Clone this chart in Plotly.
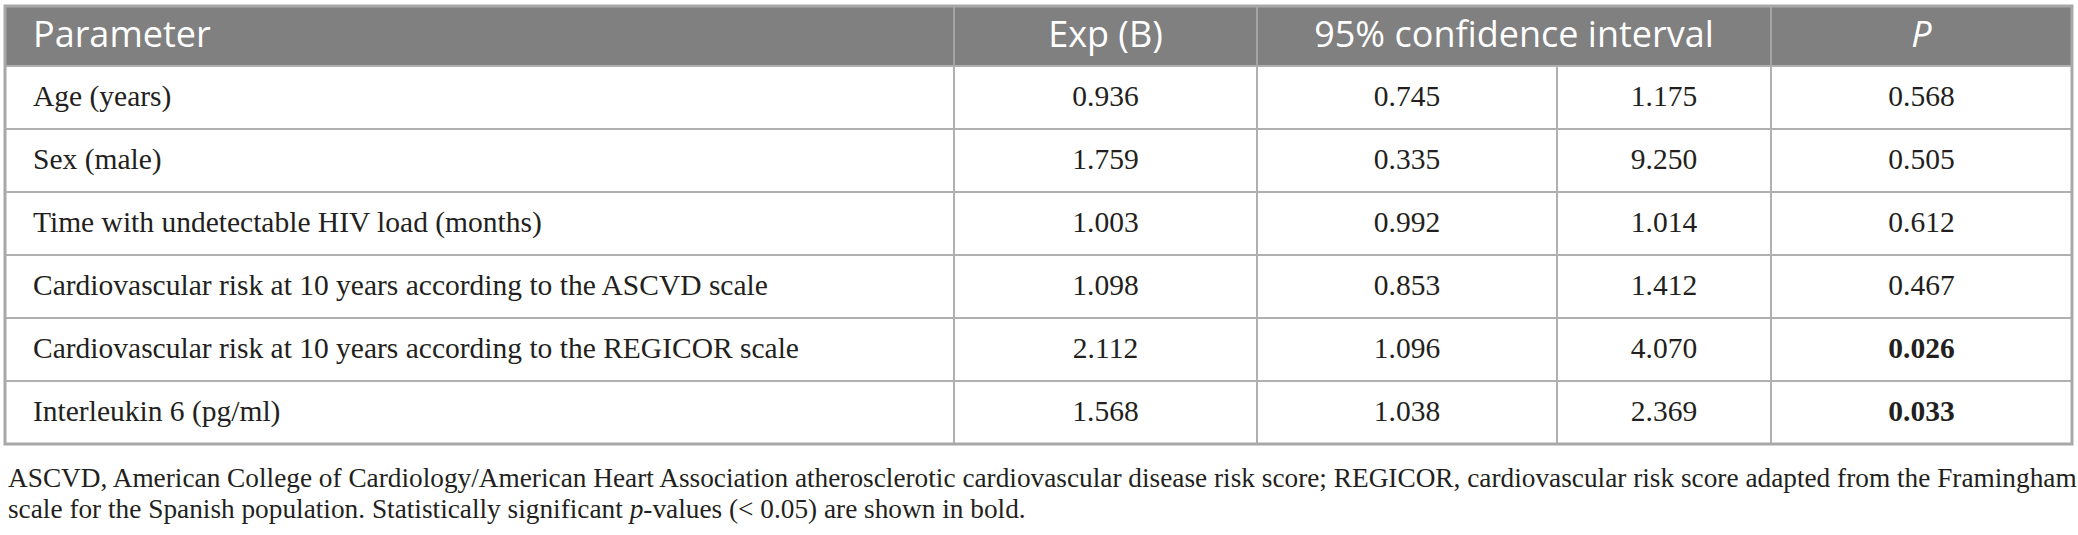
import plotly.graph_objects as go

# Table content
parameters = [
    'Age (years)',
    'Sex (male)',
    'Time with undetectable HIV load (months)',
    'Cardiovascular risk at 10 years according to the ASCVD scale',
    'Cardiovascular risk at 10 years according to the REGICOR scale',
    'Interleukin 6 (pg/ml)',
]
exp_b = [0.936, 1.759, 1.003, 1.098, 2.112, 1.568]
ci_lower = [0.745, 0.335, 0.992, 0.853, 1.096, 1.038]
ci_upper = [1.175, 9.250, 1.014, 1.412, 4.070, 2.369]
p_values = [0.568, 0.505, 0.612, 0.467, 0.026, 0.033]
header_labels = ['Parameter', 'Exp (B)', '95% confidence interval', '<i>P</i>']
footnote_lines = [
    'ASCVD, American College of Cardiology/American Heart Association atherosclerotic cardiovascular '
    'disease risk score; REGICOR, cardiovascular risk score adapted from the Framingham',
    'scale for the Spanish population. Statistically significant <i>p</i>-values (&lt; 0.05) are shown in bold.',
]

# Geometry (pixels)
W, H = 2078, 535
col_edges = [5, 954, 1257, 1557, 1771, 2072]
table_top = 6
header_bottom = 66
row_h = 63
n_rows = len(parameters)
table_bottom = header_bottom + n_rows * row_h
grid_color = '#b0b0b0'
header_fill = '#808080'
text_color = '#231f20'
serif = 'Liberation Serif'
sans = 'Open Sans'
body_size = 29.5
header_size = 36

row_centers = [header_bottom + (i + 0.5) * row_h + 1 for i in range(n_rows)]
col_centers = [(col_edges[i] + col_edges[i + 1]) / 2 for i in range(len(col_edges) - 1)]

fig = go.Figure()

# Header background
fig.add_shape(type='rect', x0=col_edges[0], x1=col_edges[-1], y0=table_top, y1=header_bottom,
              fillcolor=header_fill, line=dict(width=0), layer='below')

# Horizontal row lines
for i in range(0, n_rows):
    y = header_bottom + i * row_h
    fig.add_shape(type='line', x0=col_edges[0], x1=col_edges[-1], y0=y, y1=y,
                  line=dict(color=grid_color, width=2))

# Vertical lines: header (CI spans two columns) and body
for x in [col_edges[1], col_edges[2], col_edges[4]]:
    fig.add_shape(type='line', x0=x, x1=x, y0=table_top, y1=header_bottom,
                  line=dict(color='#a5a5a5', width=2))
for x in col_edges[1:-1]:
    fig.add_shape(type='line', x0=x, x1=x, y0=header_bottom, y1=table_bottom,
                  line=dict(color=grid_color, width=2))

# Outer border
fig.add_shape(type='rect', x0=col_edges[0], x1=col_edges[-1], y0=table_top, y1=table_bottom,
              line=dict(color='#a8a8a8', width=3))

# Header text
header_x = [col_edges[0] + 28, col_centers[1], (col_edges[2] + col_edges[4]) / 2, col_centers[4]]
header_y = (table_top + header_bottom) / 2 + 2
fig.add_trace(go.Scatter(
    x=header_x[:1], y=[header_y], mode='text', text=header_labels[:1], textposition='middle right',
    textfont=dict(family=sans, size=header_size, color='white'), hoverinfo='skip'))
fig.add_trace(go.Scatter(
    x=header_x[1:], y=[header_y] * 3, mode='text', text=header_labels[1:], textposition='middle center',
    textfont=dict(family=sans, size=header_size, color='white'), hoverinfo='skip'))

# Parameter names
fig.add_trace(go.Scatter(
    x=[col_edges[0] + 28] * n_rows, y=row_centers, mode='text', text=parameters,
    textposition='middle right', textfont=dict(family=serif, size=body_size, color=text_color),
    hoverinfo='skip'))

# Numeric columns
numeric_cols = [exp_b, ci_lower, ci_upper]
for ci, values in enumerate(numeric_cols):
    fig.add_trace(go.Scatter(
        x=[col_centers[ci + 1]] * n_rows, y=row_centers, mode='text',
        text=[f'{v:.3f}' for v in values], textposition='middle center',
        textfont=dict(family=serif, size=body_size, color=text_color), hoverinfo='skip'))

# P values, significant in bold
fig.add_trace(go.Scatter(
    x=[col_centers[4]] * n_rows, y=row_centers, mode='text',
    text=[f'<b>{p:.3f}</b>' if p < 0.05 else f'{p:.3f}' for p in p_values],
    textposition='middle center', textfont=dict(family=serif, size=body_size, color=text_color),
    hoverinfo='skip'))

# Footnote
for i, line in enumerate(footnote_lines):
    fig.add_annotation(x=6, y=table_bottom + 34 + i * 31, xref='x', yref='y', text=line,
                       showarrow=False, xanchor='left', yanchor='middle',
                       font=dict(family=serif, size=27.3, color=text_color))

fig.update_layout(
    width=W, height=H,
    margin=dict(l=0, r=0, t=0, b=0),
    paper_bgcolor='white', plot_bgcolor='white',
    showlegend=False, hovermode=False,
    xaxis=dict(range=[0, W], visible=False, fixedrange=True),
    yaxis=dict(range=[H, 0], visible=False, fixedrange=True),
)

fig.write_html('out.html', config={'displayModeBar': False},
               post_script="document.body.style.margin='0';")
